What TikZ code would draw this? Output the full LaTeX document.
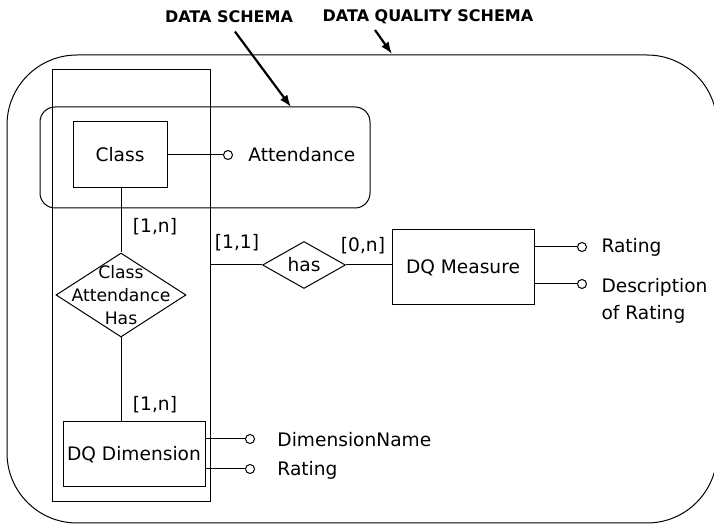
\documentclass[tikz,border=0pt]{standalone}
\usepackage{fontspec}
\setmainfont{DejaVu Sans}
\usetikzlibrary{shapes.geometric}
\usetikzlibrary{calc}
\usetikzlibrary{arrows.meta}
\tikzset{entity/.style={rectangle, draw, line width=.5pt, inner sep=0pt}}
\tikzset{relship/.style={diamond, draw, line width=.5pt, inner sep=0pt}}
\tikzset{attr/.style={circle, draw, line width=.5pt, inner sep=0pt, minimum size=4.5pt}}
\tikzset{attrtext/.style={anchor=west, align=left, inner sep=0pt}}
\tikzset{card/.style={inner sep=0pt}}
\tikzset{schema/.style={draw, line width=.5pt}}
\tikzset{title/.style={font=\bfseries\fontsize{8}{9.6}\selectfont, inner sep=0pt}}
\tikzset{pointer/.style={-{Latex[length=6pt,width=4.5pt]}, line width=1.1pt}}

\begin{document}
\begin{tikzpicture}[x=0.5pt,y=-0.5pt, font=\fontsize{9.3}{13.5}\selectfont, line width=.5pt]
  \clip (0,0) rectangle (714,524);
  % schema boundaries
  \draw[schema, rounded corners=35pt] (7,55) rectangle (717,523);
  \draw[schema] (52,70) rectangle (210,502);
  \draw[schema, rounded corners=7.5pt] (40,107) rectangle (370,208);
  \node[title] (dstitle) at (229,17) {DATA SCHEMA};
  \node[title] (dqstitle) at (428,17) {DATA QUALITY SCHEMA};
  \coordinate (dsto) at (291,107);
  \coordinate (dqsfrom) at (375,30);
  \coordinate (dqsto) at (392,54);
  \draw[pointer, shorten <=5pt] (dstitle.south) -- (dsto);
  \draw[pointer] (dqsfrom) -- (dqsto);

  % entities and relationships
  \node[entity, minimum width=47pt, minimum height=33pt] (class) at (120,155) {Class};
  \node[entity, minimum width=71pt, minimum height=32.5pt] (dqdim) at (134,454.5) {DQ Dimension};
  \node[entity, minimum width=71pt, minimum height=37.5pt] (dqmeas) at (463,267.5) {DQ Measure};
  \node[relship, minimum width=65pt, minimum height=42pt,
    label={[align=center, font=\fontsize{8.6}{11.5}\selectfont]center:Class\\Attendance\\Has}] (cah) at (121,295) {};
  \node[relship, minimum width=41.5pt, minimum height=23.5pt] (has) at (304,265) {};
  \node[inner sep=0pt] (haslab) at (has) {has};
  \coordinate (dsedge) at (210,265);

  \draw (class.south -| cah.north) -- (cah.north);
  \draw (cah.south) -- (cah.south |- dqdim.north);
  \draw (dsedge) -- (has.west);
  \draw (has.east) -- (has.east -| dqmeas.west);

  % cardinalities
  \node[card] (c1) at (155,227) {[1,n]};
  \node[card] (c2) at (155,405) {[1,n]};
  \node[card] (c3) at (237,243) {[1,1]};
  \node[card] (c4) at (363,246) {[0,n]};

  % attributes
  \foreach \lab/\x/\y/\from in {
    att/228/155/class,
    mrat/582/247/dqmeas,
    mdesc/582/284/dqmeas,
    dname/250/439/dqdim,
    drat/250/469/dqdim%
  } {
    \node[attr] (\lab) at (\x,\y) {};
    \draw (\lab -| \from.east) -- (\lab.west);
  }
  \node[attrtext] (atttext) at (248,155) {Attendance};
  \node[attrtext] (mrattext) at (601,247) {Rating};
  \node[attrtext] (mdesctext) at (601,301) {Description\\of Rating};
  \node[attrtext] (dnametext) at (277,440) {DimensionName};
  \node[attrtext] (drattext) at (277,470) {Rating};
\end{tikzpicture}
\end{document}
